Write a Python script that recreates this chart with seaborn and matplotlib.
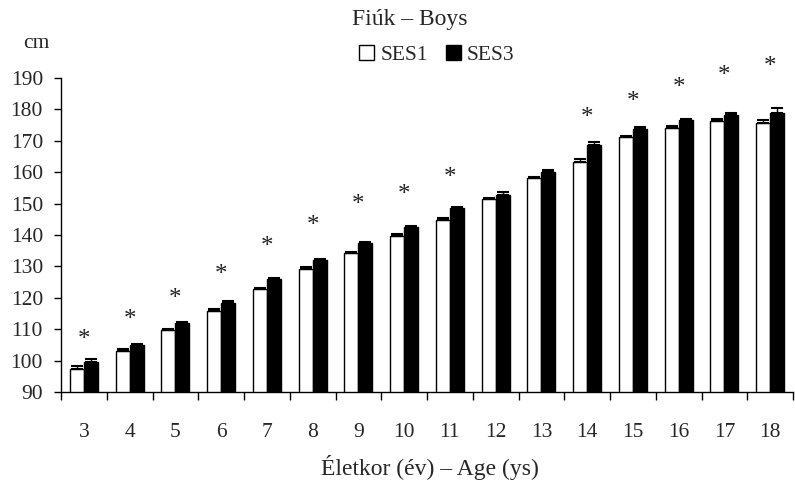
import numpy as np
import pandas as pd
import matplotlib
matplotlib.use("Agg")
import matplotlib.pyplot as plt
from matplotlib.patches import Patch
import seaborn as sns

# Data (height, cm)
ages = [3, 4, 5, 6, 7, 8, 9, 10, 11, 12, 13, 14, 15, 16, 17, 18]
ses1 = [97.3, 103.1, 109.7, 115.8, 122.7, 129.2, 134.2, 139.7, 144.8, 151.4, 158.0, 163.1, 171.1, 174.2, 176.3, 175.6]
ses3 = [99.5, 104.9, 111.9, 118.2, 125.9, 132.0, 137.3, 142.5, 148.5, 152.7, 160.2, 168.7, 173.9, 176.6, 178.3, 178.8]
err1 = [0.9, 0.5, 0.5, 0.5, 0.4, 0.5, 0.5, 0.5, 0.5, 0.5, 0.5, 1.0, 0.5, 0.5, 0.5, 1.0]
err3 = [1.1, 0.5, 0.5, 0.9, 0.5, 0.5, 0.5, 0.5, 0.5, 0.9, 0.5, 1.0, 0.5, 0.5, 0.5, 1.5]
# significance stars (age, height of star)
star_ages = [3, 4, 5, 6, 7, 8, 9, 10, 11, 14, 15, 16, 17, 18]
star_y = [107.2, 113.6, 120.3, 127.9, 136.8, 143.5, 150.2, 153.5, 158.8, 177.9, 183.0, 187.5, 191.3, 194.1]

df = pd.DataFrame({
    "age": [str(a) for a in ages] * 2,
    "cm": ses1 + ses3,
    "group": ["SES1"] * len(ages) + ["SES3"] * len(ages),
})

sns.set_style("ticks")
plt.rcParams["font.family"] = ["Liberation Serif", "DejaVu Serif"]
plt.rcParams["font.size"] = 15.5

fig = plt.figure(figsize=(7.95, 4.9), dpi=100)
ax = fig.add_axes([61 / 795, 0.2, 732 / 795, 0.6408])

sns.barplot(data=df, x="age", y="cm", hue="group", palette=["white", "black"],
            edgecolor="black", linewidth=1, width=0.61, gap=0, legend=False, ax=ax)

# upper error bars only
for cont, errs in zip(ax.containers, [err1, err3]):
    for bar, e in zip(cont, errs):
        xc = bar.get_x() + bar.get_width() / 2
        ax.errorbar(xc, bar.get_height(), yerr=[[0], [e]], color="black",
                    elinewidth=1, capsize=4, capthick=1.5)

for a, y in zip(star_ages, star_y):
    ax.annotate("*", (ages.index(a), y), xytext=(0, -6), textcoords="offset points",
                ha="center", va="baseline", fontsize=18, color="#222222",
                annotation_clip=False)

ax.set_ylim(90, 190)
ax.set_yticks(range(90, 191, 10))
ax.set_xlim(-0.5, len(ages) - 0.5)
ax.set_xticks(np.arange(-0.5, len(ages), 1), minor=True)
ax.tick_params(axis="x", which="major", length=0, pad=22)
ax.tick_params(axis="x", which="minor", length=6, width=1, color="black", direction="out")
ax.tick_params(axis="y", length=5, width=1, color="black", pad=8)
for s in ["top", "right"]:
    ax.spines[s].set_visible(False)
for s in ["left", "bottom"]:
    ax.spines[s].set_color("black")
    ax.spines[s].set_linewidth(1)
ax.set_xlabel("")
ax.set_ylabel("")

fig.text(36 / 795, 1 - 44 / 490, "cm", ha="center", va="center")
fig.text(430 / 795, 1 - 467 / 490, "Életkor (év) – Age (ys)", ha="center", va="center",
         fontsize=17)
fig.text(410 / 795, 1 - 20 / 490, "Fiúk – Boys", ha="center", va="center", fontsize=17)

handles = [Patch(facecolor="white", edgecolor="black", label="SES1"),
           Patch(facecolor="black", edgecolor="black", label="SES3")]
ax.legend(handles=handles, ncol=2, frameon=False, loc="center",
          bbox_to_anchor=(437 / 795, 1 - 55 / 490), bbox_transform=fig.transFigure,
          handlelength=0.7, handleheight=0.7, handletextpad=0.3, columnspacing=0.8,
          borderaxespad=0, borderpad=0)

fig.savefig("out.png", dpi=100)
